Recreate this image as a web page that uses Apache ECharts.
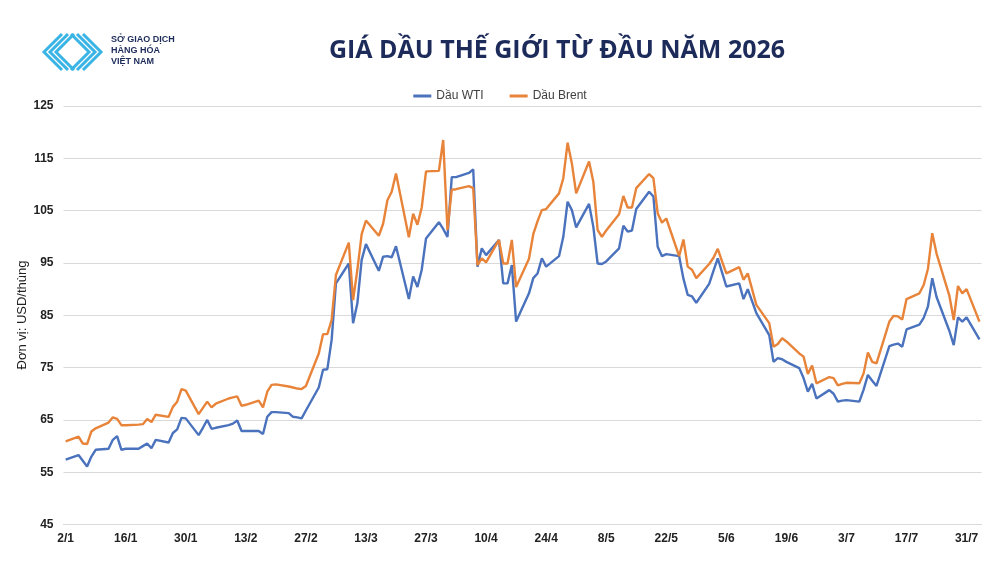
<!DOCTYPE html>
<html>
<head>
<meta charset="utf-8">
<script src="https://cdn.jsdelivr.net/npm/echarts@6/dist/echarts.min.js"></script>
<style>html,body{margin:0;padding:0;background:#fff;}#c{width:1000px;height:562px;}</style>
</head>
<body>
<div id="c"></div>
<script>
// Trading dates (d/m, 2026)
const dates = [
 '2/1','5/1','6/1','7/1','8/1','9/1','12/1','13/1','14/1','15/1','16/1','19/1','20/1','21/1','22/1','23/1','26/1','27/1','28/1','29/1','30/1',
 '2/2','3/2','4/2','5/2','6/2','9/2','10/2','11/2','12/2','13/2','16/2','17/2','18/2','19/2','20/2','23/2','24/2','25/2','26/2','27/2',
 '2/3','3/3','4/3','5/3','6/3','9/3','10/3','11/3','12/3','13/3','16/3','17/3','18/3','19/3','20/3','23/3','24/3','25/3','26/3','27/3','30/3','31/3',
 '1/4','2/4','3/4','6/4','7/4','8/4','9/4','10/4','13/4','14/4','15/4','16/4','17/4','20/4','21/4','22/4','23/4','24/4','27/4','28/4','29/4','30/4',
 '1/5','4/5','5/5','6/5','7/5','8/5','11/5','12/5','13/5','14/5','15/5','18/5','19/5','20/5','21/5','22/5','25/5','26/5','27/5','28/5','29/5',
 '1/6','2/6','3/6','4/6','5/6','8/6','9/6','10/6','11/6','12/6','15/6','16/6','17/6','18/6','19/6','22/6','23/6','24/6','25/6','26/6','29/6','30/6',
 '1/7','2/7','3/7','6/7','7/7','8/7','9/7','10/7','13/7','14/7','15/7','16/7','17/7','20/7','21/7','22/7','23/7','24/7','27/7','28/7','29/7','30/7','31/7',
 '3/8'
];
const wti = [
 57.4,58.3,57.2,56.1,58.0,59.3,59.5,61.2,61.9,59.3,59.5,59.5,60.0,60.5,59.6,61.2,60.7,62.5,63.2,65.4,65.3,
 62.1,63.5,65.0,63.3,63.5,64.0,64.3,64.9,62.9,62.9,62.9,62.3,65.6,66.5,66.5,66.3,65.6,65.5,65.3,66.8,
 71.2,74.6,74.7,80.3,91.1,94.9,83.5,87.3,95.6,98.6,93.5,96.2,96.3,96.1,98.2,88.1,92.4,90.4,93.7,99.7,102.8,101.5,
 100.0,111.4,111.4,112.2,112.9,94.3,97.8,96.5,99.4,91.1,91.1,94.6,83.8,89.2,92.1,93.0,95.9,94.3,96.3,100.0,106.7,105.1,
 101.8,106.3,101.9,94.9,94.8,95.3,97.8,102.1,101.0,101.2,105.3,108.6,107.7,98.1,96.3,96.7,96.3,92.0,88.9,88.6,87.4,
 91.0,93.5,95.9,93.2,90.5,91.1,88.1,90.0,87.7,85.4,81.2,76.1,76.8,76.6,76.1,74.9,73.0,70.4,71.9,69.1,70.7,70.0,
 68.5,68.7,68.8,68.5,70.8,73.6,72.5,71.5,79.1,79.4,79.6,79.0,82.3,83.2,84.5,86.7,92.1,88.5,82.0,79.3,84.6,83.8,84.6,
 80.4
];
const brent = [
 60.9,61.8,60.5,60.4,62.8,63.4,64.5,65.5,65.2,64.0,64.0,64.1,64.2,65.2,64.6,66.0,65.6,67.5,68.5,70.9,70.6,
 66.1,67.3,68.5,67.4,68.1,69.1,69.3,69.5,67.7,67.9,68.7,67.4,70.4,71.7,71.8,71.4,71.2,71.0,70.9,71.5,
 77.7,81.4,81.4,84.1,92.7,98.9,87.9,93.7,100.5,103.1,100.2,102.5,107.0,108.6,112.1,99.9,104.4,102.3,105.6,112.5,112.6,118.5,
 101.3,109.0,109.1,109.7,109.3,94.6,95.9,95.1,99.4,94.9,94.9,99.4,90.4,95.8,100.5,103.0,105.1,105.3,108.3,111.2,118.0,114.0,
 108.3,114.4,110.5,101.3,100.0,101.2,104.3,107.8,105.6,105.6,109.3,112.0,111.2,104.5,102.7,103.5,96.3,99.5,94.3,93.7,92.1,
 94.8,96.0,97.7,95.3,93.0,94.2,91.8,93.0,90.0,87.0,83.5,79.0,79.5,80.6,80.0,77.7,77.1,73.8,75.4,72.0,73.2,73.0,
 71.6,71.9,72.1,72.0,73.9,77.9,76.1,75.8,83.8,84.9,84.8,84.2,88.1,89.2,90.8,93.9,100.7,96.8,88.7,84.1,90.6,89.2,90.0,
 83.8
];
const seriesNames = ['Dầu WTI','Dầu Brent'];
const yTicks = {min:45, max:125, step:10};
const axisStart = [2026,0,2], axisDays = 214;

// calendar-day categories (Excel date axis)
const cats = [];
for (let i=0;i<axisDays;i++){
  const d = new Date(Date.UTC(axisStart[0],axisStart[1],axisStart[2]+i));
  cats.push(d.getUTCDate()+'/'+(d.getUTCMonth()+1));
}

const narrow = "'Liberation Sans Narrow','Liberation Sans',Arial,sans-serif";
const chart = echarts.init(document.getElementById('c'));

// logo chevrons
const logo = [];
[44,50,56].forEach(tx=>logo.push({type:'polyline',shape:{points:[[tx+18,34],[tx,52],[tx+18,70]]},style:{stroke:'#3ab4e4',lineWidth:3,fill:null}}));
[101,95,89].forEach(tx=>logo.push({type:'polyline',shape:{points:[[tx-18,34],[tx,52],[tx-18,70]]},style:{stroke:'#3ab4e4',lineWidth:3,fill:null}}));

chart.setOption({
  animation:false,
  color:['#4a72bd','#e8843a'],
  grid:{left:63.5,right:18.4,top:106,bottom:37.4},
  legend:{
    data:seriesNames, top:85, left:'center', icon:'rect', itemWidth:18, itemHeight:3, itemGap:26,
    textStyle:{fontFamily:narrow,fontSize:12,color:'#404040'}
  },
  xAxis:{
    type:'category', data:cats, boundaryGap:true,
    axisLine:{lineStyle:{color:'#d9d9d9',width:1}}, axisTick:{show:false},
    axisLabel:{interval:13,color:'#222',fontFamily:narrow,fontWeight:'bold',fontSize:12,margin:8}
  },
  yAxis:{
    type:'value', min:yTicks.min, max:yTicks.max, interval:yTicks.step,
    axisLine:{show:false}, axisTick:{show:false},
    splitLine:{lineStyle:{color:'#d9d9d9',width:1}},
    axisLabel:{color:'#222',fontFamily:narrow,fontWeight:'bold',fontSize:12,margin:10}
  },
  series:[
    {name:seriesNames[0],type:'line',symbol:'none',data:dates.map((d,i)=>[d,wti[i]]),lineStyle:{width:2.4}},
    {name:seriesNames[1],type:'line',symbol:'none',data:dates.map((d,i)=>[d,brent[i]]),lineStyle:{width:2.4}}
  ],
  graphic:[
    ...logo,
    {type:'text',x:111,y:40,style:{text:'SỞ GIAO DỊCH',fontFamily:narrow,fontWeight:'bold',fontSize:9,fill:'#1c2b5a',verticalAlign:'middle'}},
    {type:'text',x:111,y:51,style:{text:'HÀNG HÓA',fontFamily:narrow,fontWeight:'bold',fontSize:9,fill:'#1c2b5a',verticalAlign:'middle'}},
    {type:'text',x:111,y:62,style:{text:'VIỆT NAM',fontFamily:narrow,fontWeight:'bold',fontSize:9,fill:'#1c2b5a',verticalAlign:'middle'}},
    {type:'text',x:557,y:51,style:{text:'GIÁ DẦU THẾ GIỚI TỪ ĐẦU NĂM 2026',fontFamily:"'Open Sans',sans-serif",fontWeight:'bold',fontSize:25,fill:'#1c2b5a',align:'center',verticalAlign:'middle'}},
    {type:'text',x:22.5,y:315,rotation:Math.PI/2,style:{text:'Đơn vị: USD/thùng',fontFamily:"'Liberation Sans',Arial,sans-serif",fontSize:13,fill:'#222',align:'center',verticalAlign:'middle'}}
  ]
});
</script>
</body>
</html>
